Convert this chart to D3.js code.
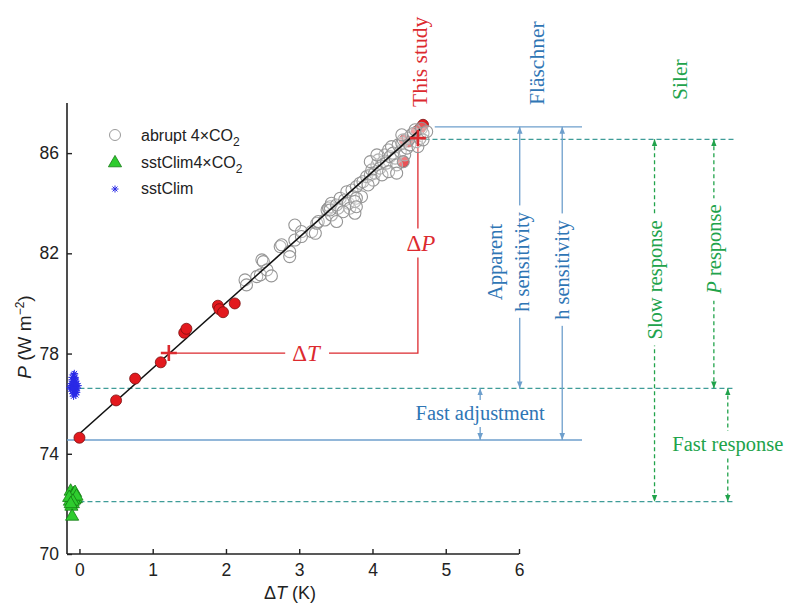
<!DOCTYPE html>
<html>
<meta charset="utf-8">
<style>
    body { margin: 0; background: #fff; }
    svg { display: block; }
    .tick text { font-family: "Liberation Sans", Arial, sans-serif; font-size: 17.5px; fill: #222; }
    .ann { font-family: "Liberation Serif", "Times New Roman", serif; }
</style>
<body>
<script src="https://cdn.jsdelivr.net/npm/d3@7"></script>
<div id="chart"></div>
<script>
// red dots: regression years of abrupt 4xCO2 (this study)
var redT = [0, 0.50, 0.76, 1.11, 1.43, 1.46, 1.89, 1.91, 1.96, 2.12, 4.42, 4.44, 4.49, 4.60, 4.65, 4.69];
var redP = [74.64, 76.13, 77.0, 77.65, 78.83, 78.99, 79.91, 79.77, 79.65, 80.0, 85.66, 86.53, 86.46, 86.86, 86.99, 87.13];

// grey circles: abrupt 4xCO2 yearly values
var grayT = [2.26, 2.28, 2.42, 2.47, 2.49, 2.51, 2.56, 2.62, 2.74, 2.76, 2.87, 2.87, 2.94, 2.94, 3.03, 3.03,
    3.17, 3.22, 3.24, 3.26, 3.35, 3.38, 3.40, 3.42, 3.44, 3.51, 3.53, 3.44, 3.42, 3.51, 3.56, 3.62,
    3.67, 3.69, 3.76, 3.65, 3.72, 3.78, 3.83, 3.85, 3.74, 3.87, 3.92, 3.97, 3.99, 4.03, 4.06, 4.08,
    4.10, 4.15, 4.17, 4.19, 4.22, 4.24, 4.26, 4.28, 4.31, 4.33, 4.35, 4.38, 4.40, 4.42, 4.44, 4.47,
    4.49, 4.51, 4.53, 4.56, 4.58, 4.60, 4.62, 4.65, 4.67, 4.69, 4.69, 4.74, 4.01, 4.13, 3.94, 4.22,
    4.33, 3.97, 4.06, 4.42, 4.40, 3.78, 3.60, 3.76, 3.78];
var grayP = [80.94, 80.74, 81.07, 81.14, 81.74, 81.67, 81.34, 81.10, 82.27, 82.34, 82.07, 81.87, 83.13, 82.53, 82.87, 82.67,
    82.87, 82.80, 83.20, 83.27, 83.33, 83.73, 83.80, 83.86, 83.53, 83.27, 83.80, 84.00, 83.73, 83.93, 84.20, 84.13,
    84.00, 83.80, 83.60, 84.46, 84.53, 84.66, 84.80, 84.26, 84.26, 84.86, 85.06, 85.13, 85.33, 85.20, 85.53, 85.73,
    85.40, 85.66, 85.93, 85.60, 86.13, 85.86, 86.26, 86.00, 85.80, 85.53, 86.33, 86.06, 86.39, 86.53, 85.93, 86.20,
    86.59, 86.33, 86.73, 86.79, 86.93, 86.46, 86.26, 86.59, 86.99, 86.79, 86.53, 86.86, 84.92, 85.13, 84.73, 85.26,
    85.20, 85.66, 85.93, 85.66, 86.73, 84.20, 83.66, 84.07, 83.86];

// sstClim stars
var starT = [-0.07, -0.09, -0.05, -0.08, -0.06, -0.10, -0.04, -0.07, -0.11, -0.06, -0.08, -0.05, -0.09, -0.07, -0.03,
    -0.12, -0.06, -0.08, -0.10, -0.05, -0.07, -0.09, -0.06, -0.04, -0.08, -0.11, -0.07, -0.05, -0.09, -0.06,
    -0.13, -0.02, -0.10, -0.04, -0.08];
var starP = [76.60, 76.75, 76.50, 76.90, 77.05, 76.65, 76.70, 76.45, 76.80, 76.95, 77.15, 76.55, 76.40, 77.20, 76.62,
    76.58, 76.85, 76.70, 76.95, 76.35, 77.00, 76.50, 76.68, 76.80, 76.60, 76.72, 76.55, 76.90, 76.60, 76.75,
    76.65, 76.72, 77.05, 76.45, 76.30];

// sstClim4xCO2 triangles
var triT = [-0.12, -0.08, -0.10, -0.05, -0.13, -0.09, -0.07, -0.11, -0.06, -0.10, -0.14, -0.04, -0.09, -0.12];
var triP = [72.5, 72.4, 72.3, 72.2, 72.1, 72.0, 72.15, 71.9, 72.45, 71.5, 72.25, 72.3, 72.1, 72.0];

// regression line and the two mean points (crosses)
var fitT = [0, 4.65];
var fitP = [74.8, 86.95];
var crossT = [1.22, 4.62];
var crossP = [78.02, 86.6];

// reference levels
var lvlFlTop = 87.05, lvlSiTop = 86.55, lvlSst = 76.61, lvlFit0 = 74.55, lvlTri = 72.09;

var xTicks = [0, 1, 2, 3, 4, 5, 6];
var yTicks = [70, 74, 78, 82, 86];

var W = 789, H = 609;
var RED = "#dc2a2f", BLUE = "#2f76b5", BLUEL = "#6e9fcc", GREEN = "#21a34b", TEAL = "#3f9c98";

var svg = d3.select("#chart").append("svg").attr("width", W).attr("height", H);

var x = d3.scaleLinear().domain([-0.17, 6]).range([67, 519]);
var y = d3.scaleLinear().domain([70, 88]).range([554, 103]);

// arrow heads
var defs = svg.append("defs");
[["ahB", BLUEL], ["ahG", GREEN]].forEach(function(m) {
    defs.append("marker").attr("id", m[0]).attr("viewBox", "0 0 10 10")
        .attr("refX", 10).attr("refY", 5)
        .attr("markerUnits", "userSpaceOnUse")
        .attr("markerWidth", 7).attr("markerHeight", 8)
        .attr("orient", "auto-start-reverse")
        .append("path").attr("d", "M0,1 L10,5 L0,9 z").attr("fill", m[1]);
});

// axes
var xAxis = d3.axisBottom(x).tickValues(xTicks).tickSize(-5).tickPadding(10).tickFormat(d3.format("d"));
var gx = svg.append("g").attr("transform", "translate(0," + y(70) + ")").call(xAxis);
var yAxis = d3.axisLeft(y).tickValues(yTicks).tickSize(-5).tickPadding(8);
var gy = svg.append("g").attr("transform", "translate(" + x(-0.17) + ",0)").call(yAxis);
[gx, gy].forEach(function(g) {
    g.select(".domain").attr("stroke", "#222").attr("stroke-width", 1.6);
    g.selectAll(".tick line").attr("stroke", "#222").attr("stroke-width", 1.4);
});
gx.select(".domain").attr("d", "M" + x(-0.17) + ",0H" + x(6));
gy.select(".domain").attr("d", "M0," + y(70) + "V" + y(88));

svg.append("text").attr("x", 290).attr("y", 599).attr("text-anchor", "middle")
    .style("font-family", "Liberation Sans, Arial, sans-serif").style("font-size", "18px").attr("fill", "#222")
    .html('\u0394<tspan font-style="italic">T</tspan> (K)');
svg.append("text").attr("transform", "translate(31,337) rotate(-90)").attr("text-anchor", "middle")
    .style("font-family", "Liberation Sans, Arial, sans-serif").style("font-size", "19px").attr("fill", "#222")
    .html('<tspan font-style="italic">P</tspan> (W m<tspan dy="-7" font-size="12px">\u22122</tspan><tspan dy="7">)</tspan>');

// horizontal reference lines
function hline(p, t0, t1, color, dashed) {
    svg.append("line").attr("x1", x(t0)).attr("x2", x(t1)).attr("y1", y(p)).attr("y2", y(p))
        .attr("stroke", color).attr("stroke-width", 1.3)
        .attr("stroke-dasharray", dashed ? "5,3" : null);
}
hline(lvlFlTop, 4.85, 6.86, BLUEL, false);
hline(lvlFit0, -0.17, 6.86, BLUEL, false);
hline(lvlSiTop, 4.71, 8.95, TEAL, true);
hline(lvlSst, 0.0, 8.95, TEAL, true);
hline(lvlTri, 0.0, 8.95, TEAL, true);

// vertical arrows
function varrow(t, p0, p1, color, marker, dashed) {
    svg.append("line").attr("x1", x(t)).attr("x2", x(t)).attr("y1", y(p0)).attr("y2", y(p1))
        .attr("stroke", color).attr("stroke-width", 1.3)
        .attr("stroke-dasharray", dashed ? "4,3" : null)
        .attr("marker-start", "url(#" + marker + ")").attr("marker-end", "url(#" + marker + ")");
}
varrow(6.01, lvlFlTop, lvlSst, BLUEL, "ahB", false);
varrow(6.59, lvlFlTop, lvlFit0, BLUEL, "ahB", false);
varrow(5.47, lvlSst, lvlFit0, BLUEL, "ahB", false);
varrow(7.85, lvlSiTop, lvlTri, GREEN, "ahG", true);
varrow(8.66, lvlSiTop, lvlSst, GREEN, "ahG", true);
varrow(8.85, lvlSst, lvlTri, GREEN, "ahG", true);

// text labels with white gap behind them
function label(px, py, rot, lines, color, size, gap, anchor) {
    var g = svg.append("g").attr("class", "ann")
        .attr("transform", "translate(" + px + "," + py + ")" + (rot ? " rotate(-90)" : ""));
    var t = g.append("text").attr("text-anchor", anchor || "middle").attr("fill", color)
        .style("font-size", size + "px");
    var n = lines.length;
    lines.forEach(function(segs, i) {
        var ly = (i - (n - 1) / 2) * 27;
        segs.forEach(function(s, j) {
            var ts = t.append("tspan").text(s[0]).attr("dominant-baseline", "central");
            if (j === 0) ts.attr("x", 0).attr("y", ly);
            if (s[1]) ts.attr("font-style", "italic");
        });
    });
    if (gap) {
        var b = t.node().getBBox();
        g.insert("rect", "text").attr("x", b.x - gap).attr("y", b.y - 2)
            .attr("width", b.width + 2 * gap).attr("height", b.height + 4).attr("fill", "#fff");
    }
}

label(x(4.65), 107, true, [[["This study"]]], RED, 21.5, 0, "start");
label(x(6.25), 105, true, [[["Fl\u00e4schner"]]], BLUE, 21.5, 0, "start");
label(x(8.2), 100, true, [[["Siler"]]], GREEN, 21.5, 0, "start");
label(508, 262, true, [[["Apparent"]], [["h sensitivity"]]], BLUE, 20.5, 6);
label(x(6.59), 270, true, [[["h sensitivity"]]], BLUE, 20.5, 6);
label(x(7.85), 280, true, [[["Slow response"]]], GREEN, 20.5, 6);
label(x(8.66), 249, true, [[["P", true], [" response"]]], GREEN, 20.5, 6);
label(x(5.47), 413, false, [[["Fast adjustment"]]], BLUE, 20.5, 4);
label(x(8.85), 444, false, [[["Fast response"]]], GREEN, 20.5, 4);

// delta T / delta P guides
svg.append("path")
    .attr("d", "M" + x(crossT[0]) + "," + y(crossP[0]) + "H" + x(crossT[1]) + "V" + y(crossP[1]))
    .attr("fill", "none").attr("stroke", RED).attr("stroke-width", 1.3);
label(306, y(crossP[0]), false, [[["\u0394"], ["T", true]]], RED, 23, 7);
label(x(crossT[1]) + 3, 243, false, [[["\u0394"], ["P", true]]], RED, 23, 4);

// data
var grayData = grayT.map(function(t, i) { return [t, grayP[i]]; });
var redData = redT.map(function(t, i) { return [t, redP[i]]; });
var starData = starT.map(function(t, i) { return [t, starP[i]]; });
var triData = triT.map(function(t, i) { return [t, triP[i]]; });

svg.append("g").selectAll("circle").data(redData.slice(10)).join("circle")
    .attr("cx", function(d) { return x(d[0]); }).attr("cy", function(d) { return y(d[1]); })
    .attr("r", 5.5).attr("fill", "#e3191e").attr("stroke", "#7a1010").attr("stroke-width", 0.8);

svg.append("g").selectAll("circle").data(grayData).join("circle")
    .attr("cx", function(d) { return x(d[0]); }).attr("cy", function(d) { return y(d[1]); })
    .attr("r", 6).attr("fill", "rgba(255,255,255,0.25)").attr("stroke", "#959595").attr("stroke-width", 1.1);

svg.append("line").attr("x1", x(fitT[0])).attr("y1", y(fitP[0])).attr("x2", x(fitT[1])).attr("y2", y(fitP[1]))
    .attr("stroke", "#111").attr("stroke-width", 1.6);

svg.append("g").selectAll("circle").data(redData.slice(0, 10)).join("circle")
    .attr("cx", function(d) { return x(d[0]); }).attr("cy", function(d) { return y(d[1]); })
    .attr("r", 5.5).attr("fill", "#e3191e").attr("stroke", "#7a1010").attr("stroke-width", 0.8);

var sym = d3.symbol().type(d3.symbolTriangle).size(75);
svg.append("g").selectAll("path").data(triData).join("path")
    .attr("transform", function(d) { return "translate(" + x(d[0]) + "," + y(d[1]) + ")"; })
    .attr("d", sym).attr("fill", "#2ecc2e").attr("stroke", "#137a13").attr("stroke-width", 0.8);

function star(g, cx, cy, r) {
    var a = g.append("g").attr("transform", "translate(" + cx + "," + cy + ")")
        .attr("stroke", "#2a2ae6").attr("stroke-width", 1);
    [0, 45, 90, 135].forEach(function(ang) {
        var rad = ang * Math.PI / 180;
        a.append("line").attr("x1", -r * Math.cos(rad)).attr("y1", -r * Math.sin(rad))
            .attr("x2", r * Math.cos(rad)).attr("y2", r * Math.sin(rad));
    });
}
var gs = svg.append("g");
starData.forEach(function(d) { star(gs, x(d[0]), y(d[1]), 3.8); });

// crosses
svg.append("g").selectAll("path").data(crossT.map(function(t, i) { return [t, crossP[i]]; })).join("path")
    .attr("d", function(d) {
        var cx = x(d[0]), cy = y(d[1]);
        return "M" + (cx - 8) + "," + cy + "H" + (cx + 8) + "M" + cx + "," + (cy - 8) + "V" + (cy + 8);
    })
    .attr("stroke", RED).attr("stroke-width", 2.6);

// legend
var lg = svg.append("g").style("font-family", "Liberation Sans, Arial, sans-serif").style("font-size", "16px");
lg.append("circle").attr("cx", 115).attr("cy", 135).attr("r", 5.5).attr("fill", "none").attr("stroke", "#9a9a9a");
lg.append("path").attr("transform", "translate(115,163)").attr("d", sym)
    .attr("fill", "#2ecc2e").attr("stroke", "#137a13").attr("stroke-width", 0.8);
star(lg, 115, 189, 3.5);
lg.append("text").attr("x", 141).attr("y", 141).attr("fill", "#222")
    .html('abrupt 4\u00d7CO<tspan dy="5" font-size="12px">2</tspan>');
lg.append("text").attr("x", 141).attr("y", 168).attr("fill", "#222")
    .html('sstClim4\u00d7CO<tspan dy="5" font-size="12px">2</tspan>');
lg.append("text").attr("x", 141).attr("y", 194).attr("fill", "#222").text("sstClim");
</script>
</body>
</html>
